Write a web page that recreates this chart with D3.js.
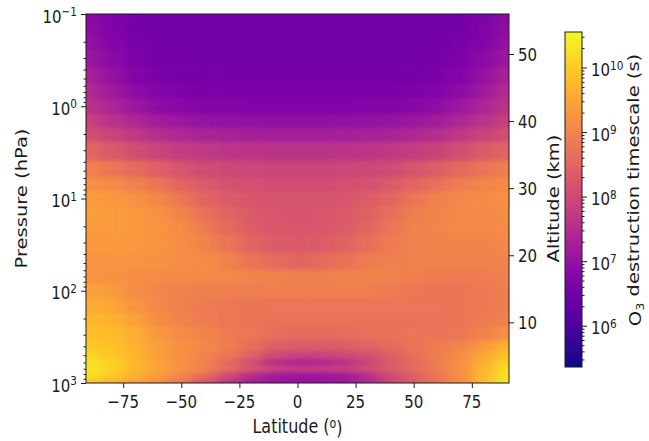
<!DOCTYPE html>
<html>
<head>
<meta charset="utf-8">
<script src="https://cdn.jsdelivr.net/npm/d3@7"></script>
<style>
    body { margin: 0; background: #fff; }
    text { font-family: "DejaVu Sans", sans-serif; fill: #1a1a1a; }
</style>
</head>
<body>
<div id="chart"></div>
<script>
// grid of the field: latitude columns (deg) and pressure rows (hPa)
const latitudes = [-90, -80, -70, -60, -50, -40, -30, -20, -10, 0, 10, 20, 30, 40, 50, 60, 70, 80, 90];
const pressureLevels = [0.1, 0.15, 0.2, 0.3, 0.5, 0.7, 1, 1.5, 2, 3, 5, 7, 10, 15, 20, 30, 50, 70, 100, 150, 200, 300, 400, 500, 600, 700, 850, 1000];

// log10 of the O3 destruction timescale (s), one row per pressure level
const log10Timescale = [
    [6.85, 6.65, 6.55, 6.5, 6.5, 6.5, 6.5, 6.5, 6.5, 6.5, 6.5, 6.5, 6.5, 6.5, 6.5, 6.5, 6.55, 6.65, 6.85],
    [6.9, 6.7, 6.55, 6.5, 6.5, 6.5, 6.5, 6.5, 6.5, 6.5, 6.5, 6.5, 6.5, 6.5, 6.5, 6.5, 6.55, 6.7, 6.9],
    [7.0, 6.75, 6.6, 6.52, 6.5, 6.5, 6.5, 6.5, 6.5, 6.5, 6.5, 6.5, 6.5, 6.5, 6.5, 6.52, 6.6, 6.75, 7.0],
    [7.1, 6.85, 6.65, 6.55, 6.52, 6.5, 6.5, 6.5, 6.5, 6.5, 6.5, 6.5, 6.5, 6.5, 6.52, 6.55, 6.65, 6.85, 7.1],
    [7.3, 7.0, 6.75, 6.62, 6.57, 6.55, 6.55, 6.55, 6.55, 6.55, 6.55, 6.55, 6.55, 6.55, 6.57, 6.62, 6.75, 7.0, 7.3],
    [7.45, 7.15, 6.9, 6.72, 6.65, 6.62, 6.6, 6.6, 6.6, 6.6, 6.6, 6.6, 6.6, 6.62, 6.65, 6.72, 6.9, 7.15, 7.45],
    [7.6, 7.35, 7.1, 6.9, 6.8, 6.75, 6.72, 6.7, 6.7, 6.7, 6.7, 6.7, 6.72, 6.75, 6.8, 6.9, 7.1, 7.35, 7.6],
    [7.85, 7.6, 7.4, 7.2, 7.1, 7.02, 7.0, 6.97, 6.95, 6.95, 6.95, 6.97, 7.0, 7.02, 7.1, 7.2, 7.4, 7.6, 7.85],
    [8.1, 7.9, 7.7, 7.5, 7.4, 7.32, 7.28, 7.25, 7.22, 7.22, 7.22, 7.25, 7.28, 7.32, 7.4, 7.5, 7.7, 7.9, 8.1],
    [8.5, 8.3, 8.1, 7.9, 7.78, 7.7, 7.65, 7.62, 7.6, 7.6, 7.6, 7.62, 7.65, 7.7, 7.78, 7.9, 8.1, 8.3, 8.5],
    [8.95, 8.8, 8.6, 8.4, 8.2, 8.05, 7.98, 7.95, 7.92, 7.92, 7.92, 7.95, 7.98, 8.05, 8.2, 8.35, 8.55, 8.75, 8.9],
    [9.2, 9.1, 8.95, 8.75, 8.5, 8.3, 8.15, 8.1, 8.08, 8.08, 8.08, 8.1, 8.15, 8.3, 8.5, 8.7, 8.9, 9.0, 9.1],
    [9.35, 9.3, 9.2, 9.05, 8.8, 8.5, 8.32, 8.22, 8.18, 8.18, 8.18, 8.22, 8.32, 8.5, 8.75, 8.95, 9.05, 9.1, 9.2],
    [9.4, 9.35, 9.3, 9.2, 9.0, 8.7, 8.45, 8.3, 8.22, 8.2, 8.22, 8.28, 8.42, 8.65, 8.9, 9.0, 9.05, 9.05, 9.15],
    [9.35, 9.35, 9.3, 9.25, 9.1, 8.85, 8.55, 8.35, 8.25, 8.22, 8.25, 8.32, 8.5, 8.75, 8.95, 9.02, 9.05, 9.05, 9.1],
    [9.3, 9.3, 9.3, 9.25, 9.15, 9.0, 8.75, 8.5, 8.32, 8.28, 8.32, 8.45, 8.65, 8.85, 8.95, 9.0, 9.0, 9.0, 9.05],
    [9.25, 9.25, 9.25, 9.2, 9.15, 9.1, 8.95, 8.75, 8.6, 8.52, 8.58, 8.7, 8.85, 8.92, 8.95, 8.95, 8.95, 8.95, 9.0],
    [9.25, 9.2, 9.15, 9.1, 9.08, 9.08, 9.05, 9.0, 8.95, 8.92, 8.92, 8.95, 8.98, 8.98, 8.92, 8.88, 8.85, 8.88, 8.95],
    [9.45, 9.35, 9.15, 9.02, 8.95, 8.92, 8.9, 8.9, 8.9, 8.9, 8.9, 8.9, 8.9, 8.85, 8.8, 8.78, 8.78, 8.82, 8.9],
    [9.6, 9.5, 9.25, 9.05, 8.95, 8.85, 8.8, 8.78, 8.75, 8.75, 8.75, 8.75, 8.75, 8.75, 8.75, 8.75, 8.75, 8.82, 8.9],
    [9.75, 9.65, 9.45, 9.15, 9.0, 8.88, 8.8, 8.75, 8.72, 8.72, 8.72, 8.72, 8.72, 8.72, 8.72, 8.72, 8.75, 8.85, 8.95],
    [9.85, 9.78, 9.6, 9.3, 9.1, 9.0, 8.85, 8.75, 8.65, 8.6, 8.6, 8.62, 8.68, 8.72, 8.75, 8.75, 8.8, 8.95, 9.2],
    [9.95, 9.85, 9.65, 9.38, 9.2, 9.05, 8.9, 8.65, 8.4, 8.3, 8.3, 8.35, 8.45, 8.6, 8.75, 8.85, 9.0, 9.3, 9.65],
    [10.1, 9.95, 9.7, 9.4, 9.2, 9.0, 8.8, 8.45, 8.05, 7.9, 7.92, 8.0, 8.15, 8.4, 8.7, 8.9, 9.1, 9.5, 9.9],
    [10.25, 10.05, 9.75, 9.42, 9.2, 8.95, 8.6, 8.1, 7.5, 7.35, 7.4, 7.55, 7.9, 8.3, 8.6, 8.85, 9.15, 9.6, 10.1],
    [10.3, 10.1, 9.75, 9.45, 9.2, 8.95, 8.6, 8.2, 7.9, 7.75, 7.75, 7.85, 8.05, 8.3, 8.6, 8.85, 9.2, 9.7, 10.2],
    [10.2, 9.95, 9.6, 9.35, 9.0, 8.55, 8.0, 7.45, 7.15, 7.05, 7.05, 7.15, 7.5, 8.0, 8.4, 8.75, 9.15, 9.75, 10.3],
    [9.9, 9.6, 9.35, 9.1, 8.75, 8.2, 7.6, 7.2, 7.05, 7.0, 7.02, 7.1, 7.4, 7.9, 8.35, 8.75, 9.15, 9.8, 10.35]
];

// axis ticks
const latitudeTicks = [-75, -50, -25, 0, 25, 50, 75];
const pressureTicks = [0.1, 1, 10, 100, 1000];
const pressureExponents = ['\u22121', '0', '1', '2', '3'];
const altitudeTicks = [10, 20, 30, 40, 50];
const timescaleTicks = [1e6, 1e7, 1e8, 1e9, 1e10];
const timescaleExponents = ['6', '7', '8', '9', '10'];

const width = 649;
const height = 441;
const plot = {l: 86, r: 509, t: 14, b: 383};
const bar = {l: 565, r: 582, t: 32, b: 367};
// the picture is stretched vertically, text included
const stretch = 1.22;

const svg = d3.select('#chart')
    .append('svg')
    .attr('width', width)
    .attr('height', height);

const x = d3.scaleLinear().domain([-91, 91]).range([plot.l, plot.r]);
const y = d3.scaleLog().domain([0.1, 1000]).range([plot.t, plot.b]);
const altitude = d3.scaleLinear().domain([0.96, 55.96]).range([plot.b, plot.t]);
const color = d3.scaleSequentialLog(d3.interpolatePlasma)
    .domain([Math.pow(10, 5.36), Math.pow(10, 10.55)]);
const barY = d3.scaleLog().domain(color.domain()).range([bar.b, bar.t]);

const defs = svg.append('defs');
defs.append('clipPath')
    .attr('id', 'plot-clip')
    .append('rect')
    .attr('x', plot.l)
    .attr('y', plot.t)
    .attr('width', plot.r - plot.l)
    .attr('height', plot.b - plot.t);

const smooth = defs.append('filter')
    .attr('id', 'smooth')
    .attr('filterUnits', 'userSpaceOnUse')
    .attr('x', plot.l - 40)
    .attr('y', plot.t - 30)
    .attr('width', plot.r - plot.l + 80)
    .attr('height', plot.b - plot.t + 60)
    .attr('color-interpolation-filters', 'sRGB');
smooth.append('feGaussianBlur').attr('stdDeviation', '7 2');

// cells: edges half way between grid points, outer ones pushed past the frame
const cells = [];
pressureLevels.forEach((p, i) => {
    const pTop = i === 0 ? p / 2 : Math.sqrt(pressureLevels[i - 1] * p);
    const pBot = i === pressureLevels.length - 1 ? p * 2 : Math.sqrt(p * pressureLevels[i + 1]);
    latitudes.forEach((lat, j) => {
        const latL = j === 0 ? lat - 20 : (latitudes[j - 1] + lat) / 2;
        const latR = j === latitudes.length - 1 ? lat + 20 : (lat + latitudes[j + 1]) / 2;
        cells.push({latL, latR, pTop, pBot, value: Math.pow(10, log10Timescale[i][j])});
    });
});

const field = svg.append('g')
    .attr('clip-path', 'url(#plot-clip)')
    .append('g')
    .attr('filter', 'url(#smooth)');

field.selectAll('rect')
    .data(cells)
    .enter()
    .append('rect')
    .attr('x', d => x(d.latL))
    .attr('y', d => y(d.pTop))
    .attr('width', d => x(d.latR) - x(d.latL) + 0.6)
    .attr('height', d => y(d.pBot) - y(d.pTop) + 0.6)
    .attr('fill', d => color(d.value));

// axes (tick marks only, labels drawn below)
const minorPressure = [];
[-1, 0, 1, 2].forEach(e => d3.range(2, 10).forEach(k => minorPressure.push(k * Math.pow(10, e))));
const minorTimescale = [];
[5, 6, 7, 8, 9, 10].forEach(e => d3.range(2, 10).forEach(k => {
    const v = k * Math.pow(10, e);
    if (v > color.domain()[0] && v < color.domain()[1]) minorTimescale.push(v);
}));

function tickAxis(axis, transform) {
    const g = svg.append('g').attr('transform', transform).call(axis);
    g.select('.domain').remove();
    g.selectAll('line').attr('stroke', '#1a1a1a');
    return g;
}

tickAxis(d3.axisBottom(x).tickValues(latitudeTicks).tickSize(5).tickFormat(''), `translate(0,${plot.b})`);
tickAxis(d3.axisLeft(y).tickValues(pressureTicks).tickSize(5).tickFormat(''), `translate(${plot.l},0)`);
tickAxis(d3.axisLeft(y).tickValues(minorPressure).tickSize(2.5).tickFormat(''), `translate(${plot.l},0)`);
tickAxis(d3.axisRight(altitude).tickValues(altitudeTicks).tickSize(5).tickFormat(''), `translate(${plot.r},0)`);
tickAxis(d3.axisRight(barY).tickValues(timescaleTicks).tickSize(5).tickFormat(''), `translate(${bar.r},0)`);
tickAxis(d3.axisRight(barY).tickValues(minorTimescale).tickSize(2.5).tickFormat(''), `translate(${bar.r},0)`);

// frame
svg.append('rect')
    .attr('x', plot.l)
    .attr('y', plot.t)
    .attr('width', plot.r - plot.l)
    .attr('height', plot.b - plot.t)
    .attr('fill', 'none')
    .attr('stroke', '#1a1a1a')
    .attr('stroke-width', 1);

// colorbar
const grad = defs.append('linearGradient')
    .attr('id', 'plasma')
    .attr('x1', 0).attr('y1', 1)
    .attr('x2', 0).attr('y2', 0);
grad.selectAll('stop')
    .data(d3.range(0, 1.0001, 0.05))
    .enter()
    .append('stop')
    .attr('offset', d => d)
    .attr('stop-color', d => d3.interpolatePlasma(d));

svg.append('rect')
    .attr('x', bar.l)
    .attr('y', bar.t)
    .attr('width', bar.r - bar.l)
    .attr('height', bar.b - bar.t)
    .attr('fill', 'url(#plasma)')
    .attr('stroke', '#1a1a1a')
    .attr('stroke-width', 1);

// text helpers
function label(px, py, size, anchor, rotate) {
    return svg.append('text')
        .attr('transform', `translate(${px},${py}) scale(1,${stretch})` + (rotate ? ' rotate(-90)' : ''))
        .attr('font-size', size)
        .attr('text-anchor', anchor)
        .attr('dy', '0.36em');
}

function powerLabel(px, py, exp, anchor) {
    const t = label(px, py + 2, 15, anchor, false);
    t.append('tspan').text('10');
    t.append('tspan').attr('dy', '-0.5em').attr('font-size', 10.5).text(exp);
    return t;
}

latitudeTicks.forEach(d => {
    label(x(d), 401.5, 15, 'middle', false).text(d3.format('d')(d));
});
pressureTicks.forEach((d, i) => powerLabel(plot.l - 9, y(d), pressureExponents[i], 'end'));
altitudeTicks.forEach(d => label(plot.r + 9, altitude(d), 15, 'start', false).text(d));
timescaleTicks.forEach((d, i) => powerLabel(bar.r + 9, barY(d), timescaleExponents[i], 'start'));

// axis titles
label(21, (plot.t + plot.b) / 2, 16, 'middle', true).text('Pressure (hPa)');
label(553, (plot.t + plot.b) / 2, 16, 'middle', true).text('Altitude (km)');

const latTitle = label((plot.l + plot.r) / 2, 426, 16, 'middle', false);
latTitle.append('tspan').text('Latitude (');
latTitle.append('tspan').attr('dy', '-0.4em').attr('font-size', 11).text('o');
latTitle.append('tspan').attr('dy', '0.4em').text(')');

const barTitle = label(635, 190, 16, 'middle', true);
barTitle.append('tspan').text('O');
barTitle.append('tspan').attr('dy', '0.3em').attr('font-size', 10.5).text('3');
barTitle.append('tspan').attr('dy', '-0.3em').text(' destruction timescale (s)');
</script>
</body>
</html>
